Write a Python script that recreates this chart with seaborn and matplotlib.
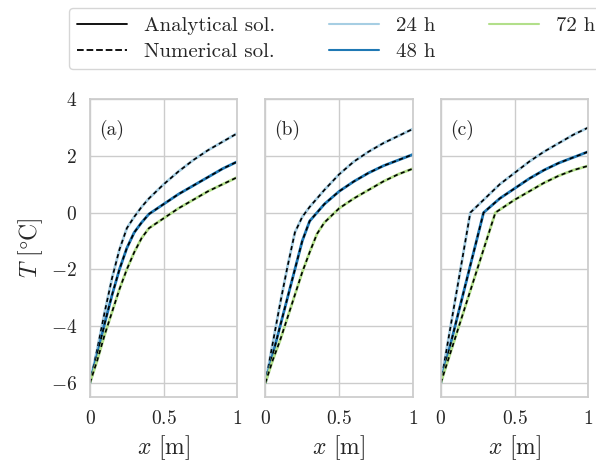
import matplotlib
matplotlib.use("Agg")
import matplotlib.pyplot as plt
import seaborn as sns
from matplotlib.lines import Line2D

sns.set_theme(style="whitegrid")
plt.rcParams['font.family'] = ['cmr10', 'DejaVu Serif']
plt.rcParams['mathtext.fontset'] = 'cm'
plt.rcParams['axes.formatter.use_mathtext'] = True
plt.rcParams['axes.unicode_minus'] = True

labels = ["24 h", "48 h", "72 h"]
colors = ["#a6cee3", "#1f78b4", "#b2df8a"]
panels = ["(a)", "(b)", "(c)"]

xa = [0, 0.05, 0.1, 0.15, 0.2, 0.25, 0.3, 0.35, 0.4, 0.5, 0.6, 0.7, 0.8, 0.9, 1.0]
a24 = [-6, -4.8, -3.5, -2.3, -1.3, -0.55, -0.15, 0.2, 0.5, 1.0, 1.45, 1.85, 2.2, 2.5, 2.8]
a48 = [-6, -5.0, -3.9, -2.9, -2.0, -1.25, -0.7, -0.35, -0.05, 0.3, 0.65, 0.95, 1.25, 1.55, 1.8]
a72 = [-6, -5.2, -4.3, -3.5, -2.7, -2.0, -1.4, -0.9, -0.55, -0.2, 0.15, 0.45, 0.75, 1.0, 1.25]

xb = [0, 0.05, 0.1, 0.15, 0.2, 0.25, 0.3, 0.35, 0.4, 0.5, 0.6, 0.7, 0.8, 0.9, 1.0]
b24 = [-6, -4.6, -3.2, -1.9, -0.7, -0.15, 0.2, 0.5, 0.8, 1.35, 1.8, 2.15, 2.45, 2.7, 2.95]
b48 = [-6, -5.0, -4.0, -3.0, -2.0, -1.0, -0.3, 0.0, 0.3, 0.75, 1.1, 1.4, 1.65, 1.85, 2.05]
b72 = [-6, -5.2, -4.5, -3.7, -2.9, -2.1, -1.4, -0.75, -0.35, 0.15, 0.5, 0.8, 1.1, 1.35, 1.55]

xc24 = [0, 0.2, 0.3, 0.4, 0.5, 0.6, 0.7, 0.8, 0.9, 1.0]
c24 = [-6, 0, 0.5, 1.0, 1.4, 1.8, 2.15, 2.45, 2.75, 3.0]
xc48 = [0, 0.29, 0.4, 0.5, 0.6, 0.7, 0.8, 0.9, 1.0]
c48 = [-6, 0, 0.5, 0.85, 1.2, 1.5, 1.75, 1.95, 2.15]
xc72 = [0, 0.37, 0.5, 0.6, 0.7, 0.8, 0.9, 1.0]
c72 = [-6, 0, 0.45, 0.75, 1.05, 1.3, 1.5, 1.65]

data = [
    [(xa, a24), (xa, a48), (xa, a72)],
    [(xb, b24), (xb, b48), (xb, b72)],
    [(xc24, c24), (xc48, c48), (xc72, c72)],
]

fig, axes = plt.subplots(1, 3, figsize=(5.96, 4.68), dpi=100, sharey=True)
fig.subplots_adjust(left=0.151, right=0.987, bottom=0.152, top=0.788, wspace=0.19)
for ax, panel, series in zip(axes, panels, data):
    for (x, t), c in zip(series, colors):
        sns.lineplot(x=x, y=t, ax=ax, color=c, lw=2, sort=False)
        sns.lineplot(x=x, y=t, ax=ax, color="black", lw=1.2, ls=(0, (2.5, 2)), sort=False)
    ax.set_xlim(0, 1)
    ax.set_ylim(-6.5, 4)
    ax.set_xticks([0, 0.5, 1])
    ax.set_xticklabels(["$0$", "$0.5$", "$1$"])
    ax.set_yticks([-6, -4, -2, 0, 2, 4])
    ax.set_xlabel(r"$x$ [m]", fontsize=17)
    ax.text(0.06, 0.93, panel, transform=ax.transAxes, va="top", fontsize=14)
    for s in ax.spines.values():
        s.set_color("#cccccc")
    ax.tick_params(labelsize=14)
axes[0].set_yticklabels(["$-6$", "$-4$", "$-2$", "$0$", "$2$", "$4$"])
axes[0].set_ylabel(r"$T$ [$\degree$C]", fontsize=17)

handles = [Line2D([], [], color="black", lw=1.3),
           Line2D([], [], color="black", lw=1.3, ls="--")] + \
          [Line2D([], [], color=c, lw=1.5) for c in colors]
leg_labels = ["Analytical sol.", "Numerical sol."] + labels
fig.legend(handles, leg_labels,
           ncol=3, loc="upper right", bbox_to_anchor=(1.03, 1.005), fontsize=15,
           frameon=True, edgecolor="#cccccc", columnspacing=2.6, handlelength=2.4,
           labelspacing=0.35)
fig.savefig("out.png", dpi=100)
